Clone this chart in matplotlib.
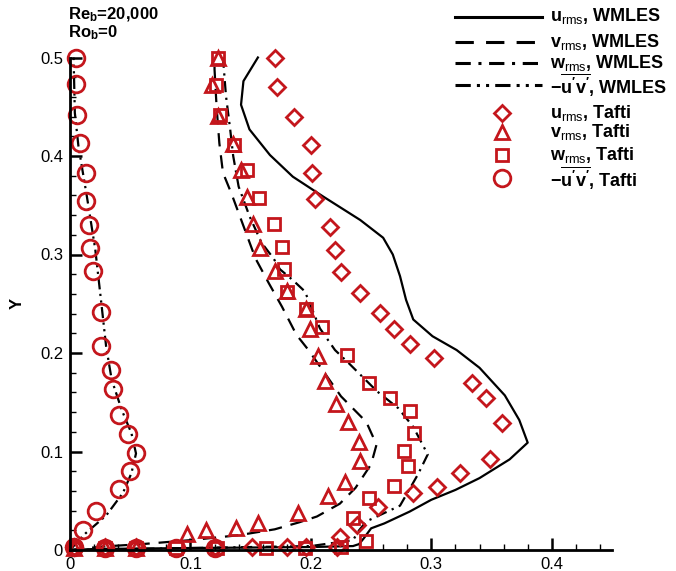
import matplotlib.pyplot as plt
from matplotlib.lines import Line2D
from matplotlib.ticker import MultipleLocator

plt.rcParams['font.family'] = ['Liberation Sans', 'DejaVu Sans']
plt.rcParams['mathtext.fontset'] = 'custom'
plt.rcParams['mathtext.rm'] = 'Liberation Sans'
plt.rcParams['mathtext.it'] = 'Liberation Sans:italic'
plt.rcParams['mathtext.bf'] = 'Liberation Sans:bold'

# WMLES profiles
u_les_x = [0.000, 0.020, 0.100, 0.200, 0.235, 0.240, 0.244, 0.250, 0.261, 0.282, 0.300,
           0.320, 0.340, 0.365, 0.380, 0.373, 0.361, 0.340, 0.321, 0.301, 0.285, 0.279,
           0.274, 0.268, 0.260, 0.241, 0.210, 0.185, 0.166, 0.149, 0.142, 0.144, 0.156]
u_les_y = [0.000, 0.001, 0.002, 0.003, 0.004, 0.006, 0.012, 0.022, 0.027, 0.039, 0.051,
           0.061, 0.073, 0.092, 0.109, 0.132, 0.157, 0.185, 0.203, 0.217, 0.234, 0.254,
           0.278, 0.300, 0.317, 0.335, 0.359, 0.379, 0.401, 0.427, 0.452, 0.476, 0.500]

v_les_x = [0.000, 0.027, 0.060, 0.100, 0.140, 0.170, 0.190, 0.205, 0.224, 0.237, 0.250,
           0.2545, 0.246, 0.225, 0.198, 0.188, 0.176, 0.165, 0.154, 0.144, 0.134, 0.127,
           0.124, 0.1217, 0.120, 0.120]
v_les_y = [0.000, 0.0035, 0.006, 0.010, 0.015, 0.021, 0.028, 0.034, 0.047, 0.063, 0.087,
           0.107, 0.130, 0.156, 0.203, 0.2185, 0.247, 0.271, 0.296, 0.329, 0.362, 0.383,
           0.413, 0.450, 0.488, 0.500]

w_les_x = [0.000, 0.100, 0.200, 0.235, 0.240, 0.246, 0.260, 0.274, 0.282, 0.289, 0.297,
           0.285, 0.2725, 0.255, 0.232, 0.220, 0.2075, 0.195, 0.185, 0.1743, 0.169, 0.159,
           0.149, 0.140, 0.1355, 0.133, 0.1295, 0.127]
w_les_y = [0.000, 0.002, 0.004, 0.010, 0.020, 0.029, 0.037, 0.045, 0.062, 0.077, 0.097,
           0.125, 0.144, 0.161, 0.189, 0.203, 0.225, 0.2625, 0.274, 0.285, 0.296, 0.312,
           0.339, 0.369, 0.400, 0.427, 0.461, 0.500]

uv_les_x = [0.000, 0.003, 0.013, 0.030, 0.044, 0.051, 0.0548, 0.051, 0.043, 0.0346, 0.030,
            0.026, 0.021, 0.014, 0.007, 0.004, 0.003]
uv_les_y = [0.000, 0.004, 0.017, 0.035, 0.058, 0.078, 0.098, 0.1186, 0.142, 0.173, 0.2066,
            0.2507, 0.305, 0.359, 0.410, 0.444, 0.500]

# Tafti data
u_exp_x = [0.170, 0.172, 0.186, 0.200, 0.201, 0.203, 0.216, 0.220, 0.225, 0.241, 0.257,
           0.269, 0.282, 0.302, 0.334, 0.345, 0.359, 0.349, 0.324, 0.305, 0.285, 0.256,
           0.238, 0.224, 0.222, 0.196, 0.180, 0.151, 0.120, 0.055, 0.029, 0.003]
u_exp_y = [0.500, 0.470, 0.440, 0.411, 0.383, 0.356, 0.328, 0.305, 0.282, 0.261, 0.241,
           0.224, 0.209, 0.195, 0.170, 0.154, 0.129, 0.092, 0.078, 0.064, 0.058, 0.044,
           0.025, 0.0135, 0.003, 0.003, 0.003, 0.003, 0.003, 0.003, 0.003, 0.003]

v_exp_x = [0.123, 0.118, 0.123, 0.135, 0.142, 0.147, 0.152, 0.158, 0.170, 0.180, 0.196,
           0.199, 0.206, 0.212, 0.221, 0.231, 0.240, 0.241, 0.228, 0.214, 0.189, 0.156,
           0.138, 0.113, 0.097, 0.055, 0.029, 0.003]
v_exp_y = [0.500, 0.472, 0.441, 0.412, 0.386, 0.358, 0.331, 0.307, 0.283, 0.263, 0.245,
           0.224, 0.197, 0.172, 0.148, 0.130, 0.110, 0.090, 0.069, 0.055, 0.038, 0.027,
           0.022, 0.020, 0.016, 0.002, 0.002, 0.002]

w_exp_x = [0.1225, 0.121, 0.1245, 0.136, 0.147, 0.157, 0.169, 0.176, 0.178, 0.180, 0.196,
           0.209, 0.230, 0.248, 0.266, 0.282, 0.286, 0.277, 0.281, 0.269, 0.248, 0.235,
           0.246, 0.225, 0.195, 0.163, 0.122, 0.088, 0.055, 0.029, 0.003]
w_exp_y = [0.500, 0.472, 0.442, 0.411, 0.386, 0.357, 0.331, 0.308, 0.285, 0.262, 0.245,
           0.226, 0.198, 0.170, 0.154, 0.141, 0.119, 0.101, 0.085, 0.065, 0.053, 0.032,
           0.0095, 0.003, 0.002, 0.002, 0.002, 0.002, 0.002, 0.002, 0.002]

uv_exp_x = [0.005, 0.005, 0.006, 0.008, 0.013, 0.013, 0.016, 0.017, 0.019, 0.026, 0.026,
            0.034, 0.036, 0.041, 0.048, 0.055, 0.050, 0.041, 0.022, 0.011, 0.003,
            0.029, 0.055, 0.088, 0.120]
uv_exp_y = [0.500, 0.473, 0.442, 0.413, 0.383, 0.354, 0.330, 0.307, 0.283, 0.242, 0.207,
            0.183, 0.163, 0.137, 0.118, 0.098, 0.080, 0.062, 0.040, 0.020, 0.003,
            0.002, 0.002, 0.002, 0.002]

x_ticks = [0, 0.1, 0.2, 0.3, 0.4]
x_ticklabels = ['0', '0.1', '0.2', '0.3', '0.4']
y_ticks = [0, 0.1, 0.2, 0.3, 0.4, 0.5]
y_ticklabels = ['0', '0.1', '0.2', '0.3', '0.4', '0.5']

red = '#c4161c'
lw = 1.6
ls_v = (0, (6, 4))
ls_w = (0, (5, 2.5, 1, 2.5))
ls_uv = (0, (5, 2, 1, 2, 1, 2))

fig = plt.figure(figsize=(6.76, 5.71), dpi=100)
ax = fig.add_axes([70 / 676, 21 / 571, 542 / 676, 492.5 / 571])

ax.plot(u_les_x, u_les_y, color='k', lw=lw, clip_on=False)
ax.plot(v_les_x, v_les_y, color='k', lw=lw, ls=ls_v, clip_on=False)
ax.plot(w_les_x, w_les_y, color='k', lw=lw, ls=ls_w, clip_on=False)
ax.plot(uv_les_x, uv_les_y, color='k', lw=lw, ls=ls_uv, clip_on=False)

mk = dict(ls='none', mfc='none', mec=red, mew=2, clip_on=False)
ax.plot(u_exp_x, u_exp_y, marker='D', ms=8, **mk)
ax.plot(v_exp_x, v_exp_y, marker='^', ms=10.5, **mk)
ax.plot(w_exp_x, w_exp_y, marker='s', ms=9, **mk)
ax.plot(uv_exp_x, uv_exp_y, marker='o', ms=12, **mk)

ax.set_xlim(0, 0.45)
ax.set_ylim(0, 0.5)
ax.set_xticks(x_ticks)
ax.set_xticklabels(x_ticklabels)
ax.set_yticks(y_ticks)
ax.set_yticklabels(y_ticklabels)
ax.xaxis.set_minor_locator(MultipleLocator(0.02))
ax.yaxis.set_minor_locator(MultipleLocator(0.02))
ax.tick_params(which='major', direction='in', length=8.5, width=1.8, labelsize=12,
               pad=5, top=False, right=False)
ax.tick_params(which='minor', direction='in', length=4.5, width=1, top=False, right=False)
for side in ['top', 'right']:
    ax.spines[side].set_visible(False)
for side in ['left', 'bottom']:
    ax.spines[side].set_linewidth(2)
ax.set_ylabel('Y', fontsize=12, fontweight='bold')
ax.yaxis.set_label_coords(-45 / 542, 0.5)


def px(x, y):
    return x / 676, 1 - y / 571


fig.text(*px(68, 15), r'Re$_\mathbf{b}$=20,000', fontsize=12, fontweight='bold', va='center')
fig.text(*px(68, 33), r'Ro$_\mathbf{b}$=0', fontsize=12, fontweight='bold', va='center')

# legend
leg_lines = [('-', r'$\mathbf{u}_{\mathrm{rms}}$, WMLES', 16.5),
             (ls_v, r'$\mathbf{v}_{\mathrm{rms}}$, WMLES', 41.5),
             (ls_w, r'$\mathbf{w}_{\mathrm{rms}}$, WMLES', 63),
             (ls_uv, r"$\mathbf{-\overline{u'v'}}$, WMLES", 85)]
for style, label, y in leg_lines:
    (x0, yy), (x1, _) = px(455, y), px(542, y)
    fig.add_artist(Line2D([x0, x1], [yy, yy], color='k', lw=2.2, ls=style))

leg_marks = [('D', 8, r'$\mathbf{u}_{\mathrm{rms}}$, Tafti', 113),
             ('^', 10.5, r'$\mathbf{v}_{\mathrm{rms}}$, Tafti', 131.5),
             ('s', 9, r'$\mathbf{w}_{\mathrm{rms}}$, Tafti', 155),
             ('o', 12, r"$\mathbf{-\overline{u'v'}}$, Tafti", 178)]
for m, s, label, y in leg_marks:
    xx, yy = px(502, y)
    fig.add_artist(Line2D([xx], [yy], marker=m, ms=s, mfc='none', mec=red, mew=2))

text_rows = [(lab, y) for _, lab, y in leg_lines] + [(lab, y) for _, _, lab, y in leg_marks]
for label, y in text_rows:
    fig.text(*px(550, y), label, fontsize=13, fontweight='bold', va='center')

fig.savefig('out.png', dpi=100)
